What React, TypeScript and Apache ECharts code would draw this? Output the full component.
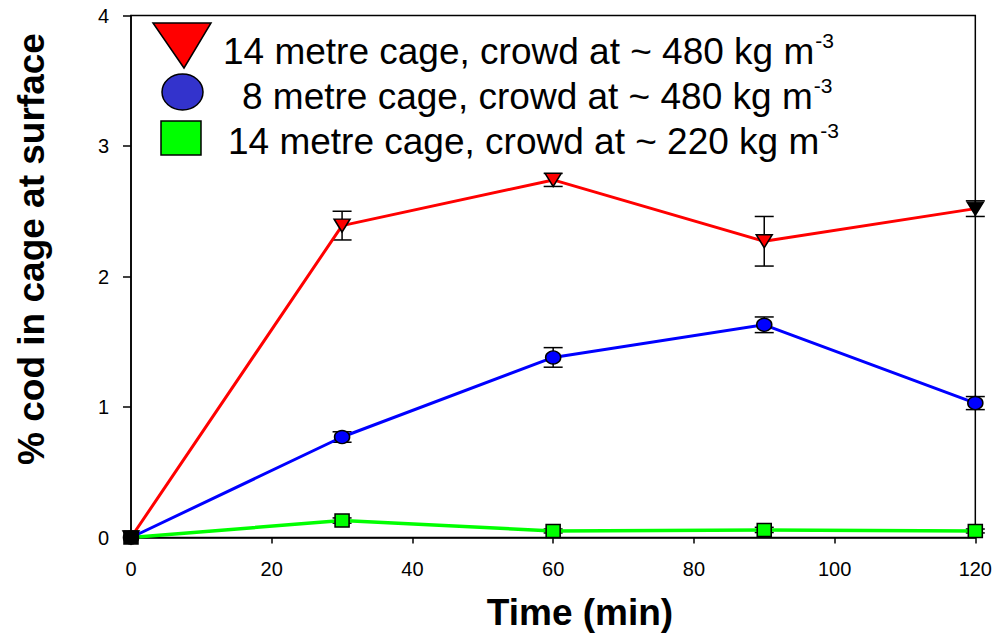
import React, { useEffect, useRef } from "react";
import * as echarts from "echarts";

const times = [0, 30, 60, 90, 120];
const red480Mean = [0, 2.39, 2.74, 2.27, 2.52];
const red480Err = [0, 0.11, 0.05, 0.19, 0.06];
const blue480Mean = [0, 0.77, 1.38, 1.63, 1.03];
const blue480Err = [0, 0.04, 0.075, 0.06, 0.05];
const green220Mean = [0, 0.13, 0.05, 0.058, 0.05];
const green220Err = [0, 0.02, 0.015, 0.02, 0.015];

const xTicks = [0, 20, 40, 60, 80, 100, 120];
const yTicks = [0, 1, 2, 3, 4];

const legendLabels = [
  "14 metre cage, crowd at ~ 480 kg m",
  "8 metre cage, crowd at ~ 480 kg m",
  "14 metre cage, crowd at ~ 220 kg m",
];
const legendSup = "-3";
const xTitle = "Time (min)";
const yTitle = "% cod in cage at surface";

const FONT = "'Liberation Sans', Arial, Helvetica, sans-serif";

function lineData(means: number[], blackIdx: number[]) {
  return times.map((t, i) =>
    blackIdx.includes(i)
      ? { value: [t, means[i]], itemStyle: { color: "#000000" } }
      : { value: [t, means[i]] }
  );
}

function errData(means: number[], errs: number[]) {
  return times
    .map((t, i) => [t, means[i] - errs[i], means[i] + errs[i], errs[i]])
    .filter((d) => d[3] > 0);
}

function errSeries(means: number[], errs: number[]) {
  return {
    type: "custom",
    data: errData(means, errs),
    encode: { x: 0, y: [1, 2] },
    z: 1,
    silent: true,
    renderItem: (params: any, api: any) => {
      const x = api.value(0);
      const lo = api.coord([x, api.value(1)]);
      const hi = api.coord([x, api.value(2)]);
      const hw = 9.5;
      const st = { stroke: "#000", lineWidth: 1.5 };
      return {
        type: "group",
        children: [
          { type: "line", shape: { x1: lo[0], y1: lo[1], x2: hi[0], y2: hi[1] }, style: st },
          { type: "line", shape: { x1: hi[0] - hw, y1: hi[1], x2: hi[0] + hw, y2: hi[1] }, style: st },
          { type: "line", shape: { x1: lo[0] - hw, y1: lo[1], x2: lo[0] + hw, y2: lo[1] }, style: st },
        ],
      };
    },
  };
}

export default function App() {
  const ref = useRef<HTMLDivElement>(null);
  useEffect(() => {
    if (!ref.current) return;
    const chart = echarts.init(ref.current, null, { renderer: "svg" });
    const legendText = (label: string, x: number, y: number) => ({
      type: "text",
      x,
      y,
      style: {
        text: `{a|${label}}{s|${legendSup}}`,
        verticalAlign: "bottom",
        rich: {
          a: { fontFamily: FONT, fontSize: 37, fill: "#000", lineHeight: 40, verticalAlign: "bottom" },
          s: { fontFamily: FONT, fontSize: 21, fill: "#000", lineHeight: 40, verticalAlign: "top", padding: [0, 0, 0, 1] },
        },
      },
    });
    chart.setOption({
      animation: false,
      backgroundColor: "#ffffff",
      grid: { left: 131, top: 15.5, width: 846, height: 522, show: true, borderColor: "#000", borderWidth: 1.5 },
      xAxis: {
        type: "value",
        min: 0,
        max: 120,
        interval: 20,
        splitLine: { show: false },
        axisLine: { show: true, onZero: false, lineStyle: { color: "#000", width: 1.5 } },
        axisTick: { show: true, length: 6, lineStyle: { color: "#000", width: 1.5 } },
        axisLabel: {
          margin: 21,
          fontFamily: FONT,
          fontSize: 20,
          color: "#000",
          customValues: xTicks,
        },
      },
      yAxis: {
        type: "value",
        min: 0,
        max: 4,
        interval: 1,
        splitLine: { show: false },
        axisLine: { show: true, onZero: false, lineStyle: { color: "#000", width: 1.5 } },
        axisTick: { show: true, length: 8, lineStyle: { color: "#000", width: 1.5 } },
        axisLabel: {
          margin: 22,
          fontFamily: FONT,
          fontSize: 20,
          color: "#000",
          customValues: yTicks,
        },
      },
      series: [
        errSeries(green220Mean, green220Err),
        errSeries(blue480Mean, blue480Err),
        errSeries(red480Mean, red480Err),
        {
          type: "line",
          data: lineData(green220Mean, [0]),
          symbol: "rect",
          symbolSize: [14, 13],
          z: 3,
          lineStyle: { color: "#00ff00", width: 3.5 },
          itemStyle: { color: "#00ff00", borderColor: "#000", borderWidth: 1.5 },
        },
        {
          type: "line",
          data: lineData(blue480Mean, [0]),
          symbol: "circle",
          symbolSize: [15, 13],
          z: 3,
          lineStyle: { color: "#0000ff", width: 3 },
          itemStyle: { color: "#0000ff", borderColor: "#000", borderWidth: 1.5 },
        },
        {
          type: "line",
          data: lineData(red480Mean, [0, 4]),
          symbol: "triangle",
          symbolRotate: 180,
          symbolSize: [16, 13],
          z: 3,
          lineStyle: { color: "#ff0000", width: 3 },
          itemStyle: { color: "#ff0000", borderColor: "#000", borderWidth: 1.5 },
        },
      ],
      graphic: [
        {
          type: "polygon",
          shape: { points: [[153, 23], [211, 23], [184, 68]] },
          style: { fill: "#ff0000", stroke: "#000", lineWidth: 1.5 },
        },
        {
          type: "ellipse",
          shape: { cx: 182.5, cy: 92, rx: 20.5, ry: 18 },
          style: { fill: "#3333cc", stroke: "#000", lineWidth: 1.5 },
        },
        {
          type: "rect",
          shape: { x: 161, y: 121, width: 40, height: 34 },
          style: { fill: "#00ff00", stroke: "#000", lineWidth: 1.5 },
        },
        legendText(legendLabels[0], 223, 70),
        legendText(legendLabels[1], 242, 115),
        legendText(legendLabels[2], 228, 160),
        {
          type: "text",
          x: 580,
          y: 612,
          style: {
            text: xTitle,
            fontFamily: FONT,
            fontSize: 37,
            fontWeight: "bold",
            fill: "#000",
            align: "center",
            verticalAlign: "middle",
          },
        },
        {
          type: "text",
          x: 31,
          y: 249,
          rotation: Math.PI / 2,
          style: {
            text: yTitle,
            fontFamily: FONT,
            fontSize: 37,
            fontWeight: "bold",
            fill: "#000",
            align: "center",
            verticalAlign: "middle",
          },
        },
      ],
    });
    return () => chart.dispose();
  }, []);
  return (
    <div
      ref={ref}
      style={{ position: "fixed", left: 0, top: 0, width: 995, height: 635, background: "#fff" }}
    />
  );
}
